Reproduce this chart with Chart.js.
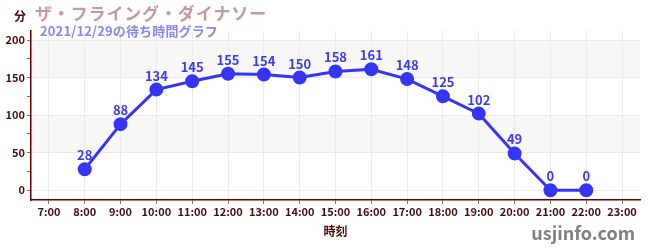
<!DOCTYPE html>
<html>
<head>
  <script src="https://cdn.jsdelivr.net/npm/chart.js"></script>
  <style>
    body { margin: 0; background: #fff; }
    #wrap { width: 650px; height: 250px; position: relative; }
  </style>
</head>
<body>
  <div id="wrap"><canvas id="waitChart"></canvas></div>
  <script>
    // data
    const hours = ['7:00', '8:00', '9:00', '10:00', '11:00', '12:00', '13:00', '14:00', '15:00',
      '16:00', '17:00', '18:00', '19:00', '20:00', '21:00', '22:00', '23:00'];
    const waitMinutes = [null, 28, 88, 134, 145, 155, 154, 150, 158, 161, 148, 125, 102, 49, 0, 0, null];
    const yTicks = [0, 25, 50, 75, 100, 125, 150, 175, 200];

    const titleText = 'ザ・フライング・ダイナソー';
    const subtitleText = '2021/12/29の待ち時間グラフ';
    const font = '"Noto Sans CJK JP", "Noto Sans", sans-serif';

    // draw text so that it spans a given width (letter spacing makes up the rest)
    function fitText(c, text, x, y, size, weight, width) {
      c.letterSpacing = '0px';
      c.font = weight + ' ' + size + 'px ' + font;
      const w = c.measureText(text).width;
      const extra = Math.max(0, (width - w) / text.length);
      c.letterSpacing = extra.toFixed(2) + 'px';
      c.fillText(text, x, y);
      c.letterSpacing = '0px';
    }

    // grey bands behind the plot
    const bandPlugin = {
      id: 'bands',
      beforeDraw(chart) {
        const c = chart.ctx, a = chart.chartArea, y = chart.scales.y;
        c.save();
        c.fillStyle = '#f7f7f7';
        [[150, 200], [50, 100]].forEach(b => {
          const top = y.getPixelForValue(b[1]), bot = y.getPixelForValue(b[0]);
          c.fillRect(a.left, top, a.right - a.left, bot - top);
        });
        c.restore();
      }
    };

    // value labels + header texts
    const textPlugin = {
      id: 'texts',
      afterDatasetsDraw(chart) {
        const c = chart.ctx;
        const meta = chart.getDatasetMeta(0);
        c.save();
        c.font = 'bold 13px ' + font;
        c.fillStyle = '#3a3aee';
        c.textAlign = 'center';
        c.textBaseline = 'middle';
        meta.data.forEach((pt, i) => {
          if (waitMinutes[i] === null) return;
          c.fillText(waitMinutes[i], pt.x, pt.y - 14);
        });
        c.restore();
      },
      afterDraw(chart) {
        const c = chart.ctx;
        c.save();
        c.textBaseline = 'middle';
        c.textAlign = 'left';
        c.font = 'bold 12px ' + font;
        c.fillStyle = '#4a0a0a';
        c.fillText('分', 14, 16);
        c.fillStyle = '#c79a9a';
        fitText(c, titleText, 35, 14, 17, 'bold', 232);
        c.fillStyle = '#8888ee';
        fitText(c, subtitleText, 40, 31, 13, '600', 178);
        c.font = 'bold 18px ' + font;
        c.fillStyle = '#808080';
        c.textAlign = 'right';
        c.fillText('usjinfo.com', 635, 233);
        c.restore();
      }
    };

    const ctx = document.getElementById('waitChart').getContext('2d');
    const chart = new Chart(ctx, {
      type: 'line',
      data: {
        labels: hours,
        datasets: [{
          data: waitMinutes,
          borderColor: '#3535f5',
          backgroundColor: '#3535f5',
          borderWidth: 3,
          pointRadius: 5.5,
          pointHoverRadius: 5.5,
          spanGaps: false,
          tension: 0
        }]
      },
      options: {
        responsive: true,
        maintainAspectRatio: false,
        animation: false,
        layout: { padding: { top: 31, right: 10, left: 0, bottom: 0 } },
        plugins: {
          legend: { display: false },
          tooltip: { enabled: false }
        },
        scales: {
          x: {
            offset: true,
            grid: {
              color: '#ebebeb',
              borderDash: [4, 4],
              tickBorderDash: [],
              tickColor: '#777',
              tickLength: 4,
              offset: false
            },
            border: { color: '#600000', width: 1.5 },
            ticks: {
              color: '#4a0a0a',
              font: { family: font, size: 11, weight: 'bold' },
              padding: 1,
              maxRotation: 0,
              autoSkip: false
            },
            title: {
              display: true,
              text: '時刻',
              color: '#4a0a0a',
              font: { family: font, size: 12, weight: 'bold' },
              padding: { top: 6, bottom: 11 }
            },
            afterFit(scale) { scale.height = 50; }
          },
          y: {
            min: -13,
            max: 212,
            afterBuildTicks(scale) { scale.ticks = yTicks.map(v => ({ value: v })); },
            grid: {
              color: ctx => (ctx.tick && ctx.tick.value % 50 === 0) ? '#ebebeb' : 'rgba(0,0,0,0)',
              tickColor: ctx => (ctx.tick && ctx.tick.value % 50 === 0) ? '#777' : '#e03030',
              tickLength: 4,
              tickBorderDash: []
            },
            border: { color: '#600000', width: 1.5 },
            ticks: {
              color: '#4a0a0a',
              font: { family: font, size: 11, weight: 'bold' },
              padding: 2,
              callback: v => (v % 50 === 0 ? v : '')
            },
            afterFit(scale) { scale.width = 31; }
          }
        }
      },
      plugins: [bandPlugin, textPlugin]
    });
  </script>
</body>
</html>
